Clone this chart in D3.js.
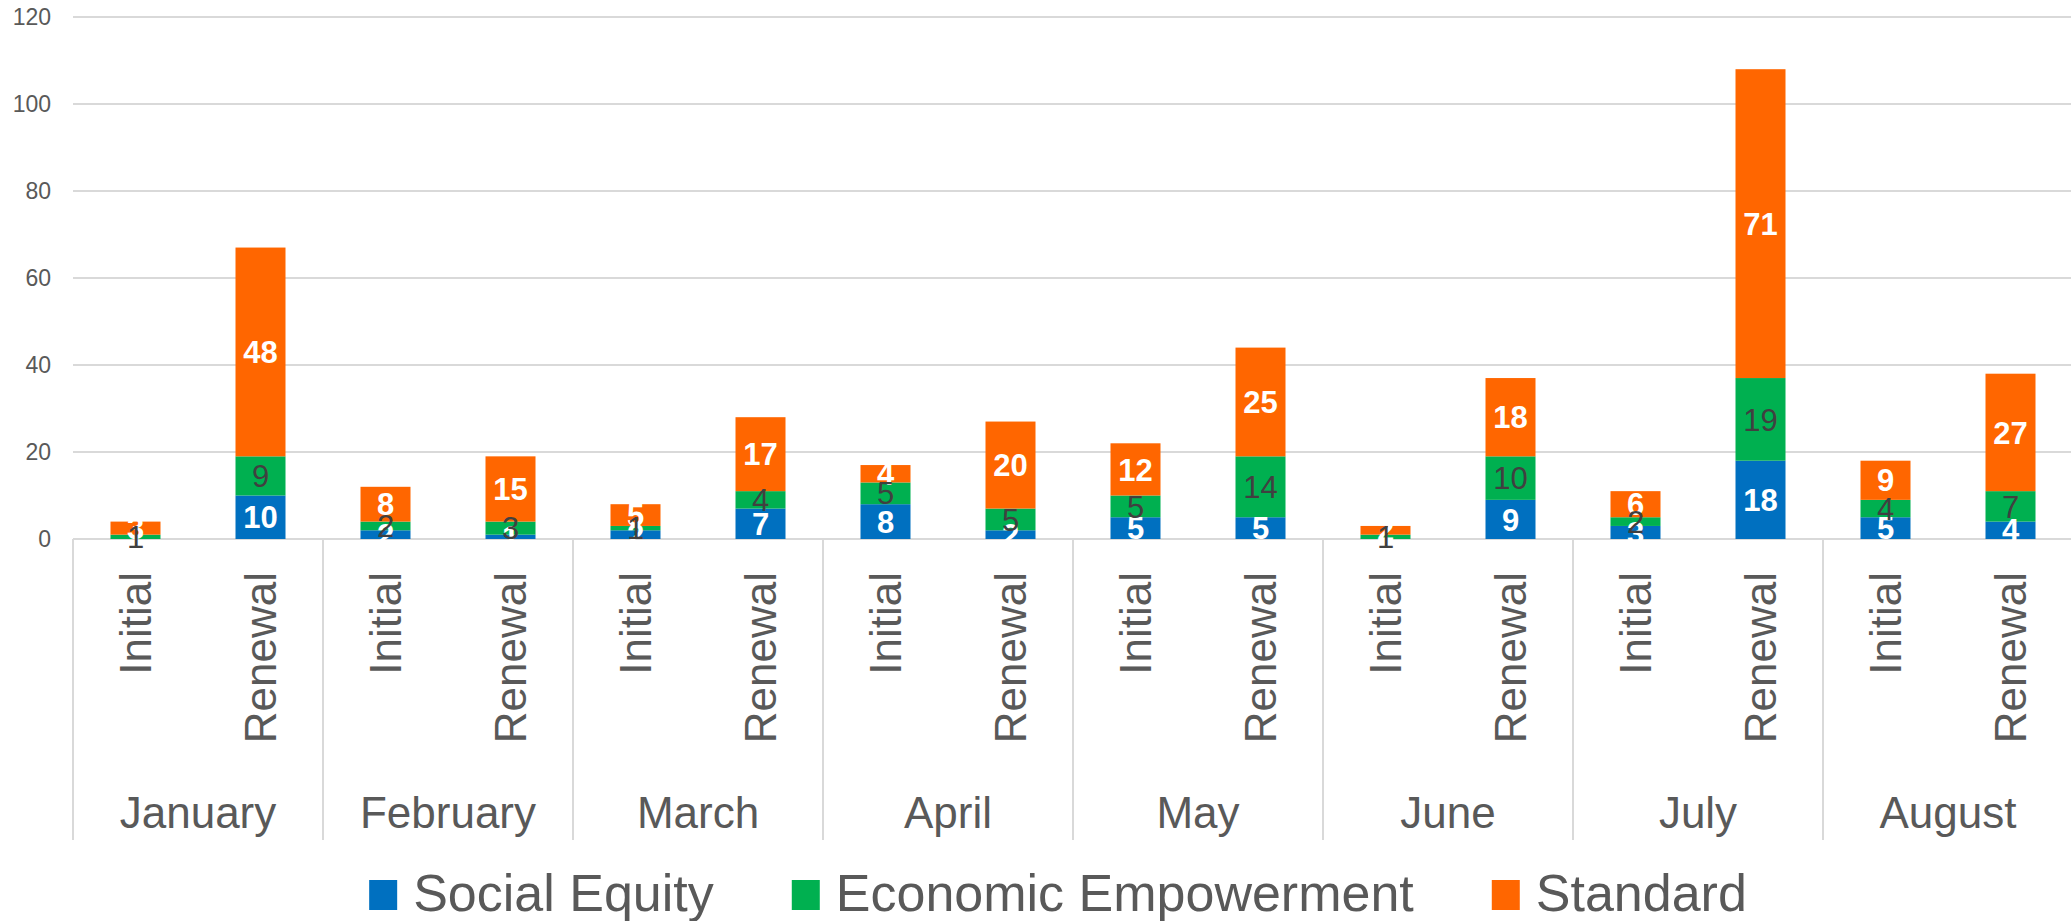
<!DOCTYPE html>
<html>
<head>
<meta charset="utf-8">
<script src="https://cdn.jsdelivr.net/npm/d3@7"></script>
<style>
  html, body { margin: 0; padding: 0; background: #fff; }
  svg { display: block; font-family: "Liberation Sans", Arial, sans-serif; }
</style>
</head>
<body>
<svg id="chart" width="2071" height="921"></svg>
<script>
'use strict';

var months = ['January', 'February', 'March', 'April', 'May', 'June', 'July', 'August'];
var types = ['Initial', 'Renewal'];
var yTicks = [0, 20, 40, 60, 80, 100, 120];

// one value per bar: month by month, Initial then Renewal
var socialEquity        = [null, 10, 2, 1, 2, 7, 8, 2, 5, 5, null, 9, 3, 18, 5, 4];
var economicEmpowerment = [1, 9, 2, 3, 1, 4, 5, 5, 5, 14, 1, 10, 2, 19, 4, 7];
var standard            = [3, 48, 8, 15, 5, 17, 4, 20, 12, 25, 2, 18, 6, 71, 9, 27];

var seriesNames = ['Social Equity', 'Economic Empowerment', 'Standard'];
var seriesColors = ['#0070C0', '#00B050', '#FF6600'];
var labelColors = ['#ffffff', '#404040', '#ffffff'];
var labelWeights = ['bold', 'normal', 'bold'];

var svg = d3.select('#chart');
var plotLeft = 73, plotRight = 2073, plotTop = 17, plotBase = 539;

var keys = [];
months.forEach(function(m) {
  types.forEach(function(t) { keys.push(m + '|' + t); });
});

var rows = keys.map(function(k, i) {
  return { key: k, s0: socialEquity[i], s1: economicEmpowerment[i], s2: standard[i] };
});

var x = d3.scaleBand().domain(keys).range([plotLeft, plotRight]).paddingInner(0.6).paddingOuter(0.3);
var xm = d3.scaleBand().domain(months).range([plotLeft, plotRight]);
var y = d3.scaleLinear().domain([0, 120]).range([plotBase, plotTop]);

// gridlines
svg.append('g').selectAll('line')
  .data(yTicks)
  .enter()
  .append('line')
  .attr('x1', plotLeft).attr('x2', 2071)
  .attr('y1', function(d) { return y(d); })
  .attr('y2', function(d) { return y(d); })
  .attr('stroke', '#D9D9D9')
  .attr('stroke-width', 2);

// y tick labels
svg.append('g').selectAll('text')
  .data(yTicks)
  .enter()
  .append('text')
  .attr('x', 51)
  .attr('y', function(d) { return y(d); })
  .attr('dy', '0.36em')
  .attr('text-anchor', 'end')
  .attr('fill', '#595959')
  .style('font-size', '23px')
  .text(function(d) { return d; });

// month separators
var seps = months.map(function(m) { return xm(m); }).concat([plotRight]);
svg.append('g').selectAll('line')
  .data(seps)
  .enter()
  .append('line')
  .attr('x1', function(d) { return d; })
  .attr('x2', function(d) { return d; })
  .attr('y1', plotBase)
  .attr('y2', 840)
  .attr('stroke', '#D9D9D9')
  .attr('stroke-width', 2);

// stacked bars
var stack = d3.stack().keys(['s0', 's1', 's2']).value(function(d, k) { return d[k] || 0; });
var stacked = stack(rows);

var bars = svg.append('g');
stacked.forEach(function(layer, si) {
  bars.selectAll('rect.s' + si)
    .data(layer)
    .enter()
    .append('rect')
    .attr('class', 's' + si)
    .attr('x', function(d) { return x(d.data.key); })
    .attr('width', x.bandwidth())
    .attr('y', function(d) { return y(d[1]); })
    .attr('height', function(d) { return y(d[0]) - y(d[1]); })
    .attr('fill', seriesColors[si]);
});

// data labels (economic empowerment last so it sits on top)
var labels = svg.append('g');
[0, 2, 1].forEach(function(si) {
  var layer = stacked[si];
  labels.selectAll('text.l' + si)
    .data(layer.filter(function(d) { return d.data['s' + si] != null; }))
    .enter()
    .append('text')
    .attr('class', 'l' + si)
    .attr('x', function(d) { return x(d.data.key) + x.bandwidth() / 2; })
    .attr('y', function(d) { return (y(d[0]) + y(d[1])) / 2; })
    .attr('dy', '0.36em')
    .attr('text-anchor', 'middle')
    .attr('fill', labelColors[si])
    .style('font-size', '31px')
    .style('font-weight', labelWeights[si])
    .text(function(d) { return d.data['s' + si]; });
});

// inner category labels, rotated
svg.append('g').selectAll('text')
  .data(keys)
  .enter()
  .append('text')
  .attr('transform', function(d) {
    return 'translate(' + (x(d) + x.bandwidth() / 2) + ',572) rotate(-90)';
  })
  .attr('dy', '0.36em')
  .attr('text-anchor', 'end')
  .attr('fill', '#595959')
  .style('font-size', '44px')
  .text(function(d) { return d.split('|')[1]; });

// month labels
svg.append('g').selectAll('text')
  .data(months)
  .enter()
  .append('text')
  .attr('x', function(d) { return xm(d) + xm.bandwidth() / 2; })
  .attr('y', 828)
  .attr('text-anchor', 'middle')
  .attr('fill', '#595959')
  .style('font-size', '44px')
  .text(function(d) { return d; });

// legend
var legend = svg.append('g');
var lx = 0;
seriesNames.forEach(function(name, i) {
  var g = legend.append('g').attr('transform', 'translate(' + lx + ',0)');
  g.append('rect')
    .attr('x', 0).attr('y', 880)
    .attr('width', 28).attr('height', 30)
    .attr('fill', seriesColors[i]);
  var t = g.append('text')
    .attr('x', 44).attr('y', 911)
    .attr('fill', '#595959')
    .style('font-size', '52px')
    .text(name);
  lx += 44 + t.node().getComputedTextLength() + 78;
});
var lw = lx - 78;
legend.attr('transform', 'translate(' + (1058 - lw / 2) + ',0)');
</script>
</body>
</html>
